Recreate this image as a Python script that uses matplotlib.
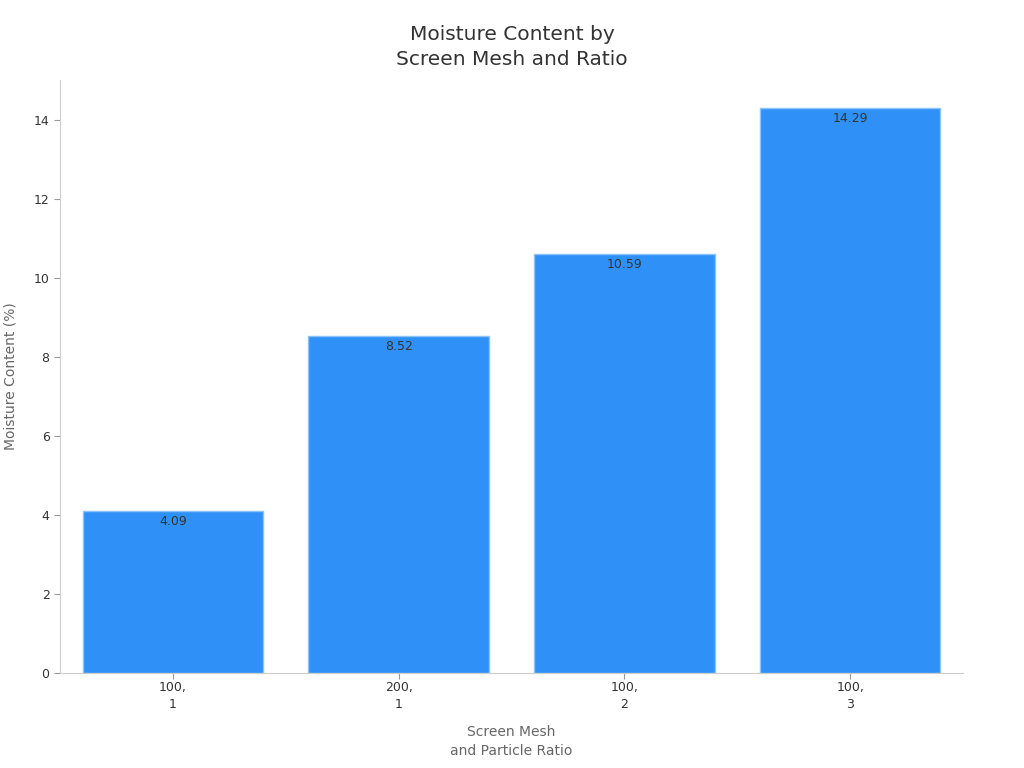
import matplotlib
matplotlib.use("Agg")
import matplotlib.pyplot as plt

categories = ["100,\n1", "200,\n1", "100,\n2", "100,\n3"]
moisture = [4.09, 8.52, 10.59, 14.29]

plt.rcParams["font.family"] = ["DejaVu Sans"]

fig = plt.figure(figsize=(10.24, 7.68), dpi=100)
ax = fig.add_axes([60 / 1024, 1 - 673 / 768, 903 / 1024, 593 / 768])

x = range(len(categories))
bars = ax.bar(x, moisture, width=0.8, color="#2f91f7", edgecolor="#8cc3fb", linewidth=1)
for b, v in zip(bars, moisture):
    ax.text(b.get_x() + b.get_width() / 2, v - 0.1, f"{v:.2f}",
            ha="center", va="top", fontsize=9, color="#333333")

ax.set_xlim(-0.5, 3.5)
ax.set_ylim(0, 15)
ax.set_xticks(list(x))
ax.set_xticklabels(categories, linespacing=1.4)
ax.set_yticks(range(0, 15, 2))
ax.tick_params(labelsize=9, colors="#333333", length=4)
ax.tick_params(axis="x", pad=2)
ax.tick_params(axis="both", color="#999999")

for s in ("top", "right"):
    ax.spines[s].set_visible(False)
for s in ("left", "bottom"):
    ax.spines[s].set_color("#cccccc")

ax.set_xlabel("Screen Mesh\nand Particle Ratio", fontsize=10, color="#666666",
              labelpad=10, linespacing=1.4)
ax.set_ylabel("Moisture Content (%)", fontsize=10, color="#666666", labelpad=12)
fig.suptitle("Moisture Content by\nScreen Mesh and Ratio", fontsize=14.5, color="#333333",
             y=0.968, linespacing=1.45)

fig.savefig("out.png", dpi=100)
